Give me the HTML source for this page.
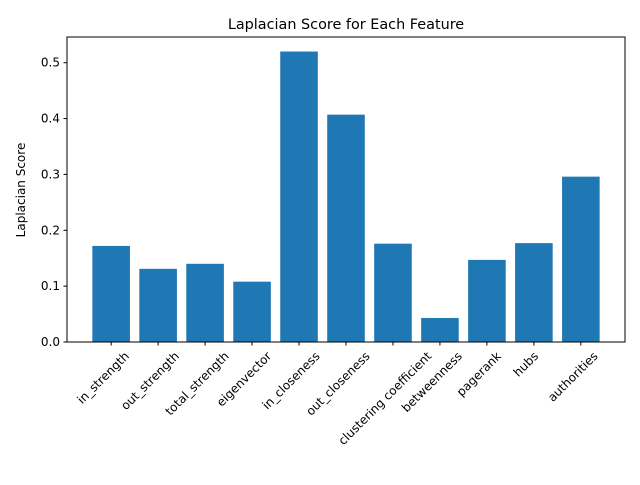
<!DOCTYPE html>
<html><head><meta charset="utf-8"><style>
body{margin:0;background:#fff;}
svg text{font-family:"DejaVu Sans","Liberation Sans",sans-serif;}
</style></head><body>
<svg width="640" height="480" viewBox="0 0 640 480" xmlns="http://www.w3.org/2000/svg">
<rect width="640" height="480" fill="#fff"/>
<text x="346" y="29" text-anchor="middle" font-size="14.4">Laplacian Score for Each Feature</text>
<g id="plot"></g>
<rect x="67" y="37" width="558" height="305" fill="none" stroke="#000" stroke-width="1"/>
<text transform="translate(25,190) rotate(-90)" text-anchor="middle" font-size="12">Laplacian Score</text>
</svg>
<script>
const categories=["in_strength","out_strength","total_strength","eigenvector","in_closeness","out_closeness","clustering coefficient","betweenness","pagerank","hubs","authorities"];
const values=[0.172,0.131,0.140,0.108,0.520,0.407,0.176,0.043,0.147,0.177,0.296];
const yTicks=[0,0.1,0.2,0.3,0.4,0.5];
const yTickLabels=["0.0","0.1","0.2","0.3","0.4","0.5"];
const L=67,R=625,T=37,B=342;
const xmin=-0.94,xmax=categories.length-1+0.94;
const ymax=Math.max(...values)*1.05;
const x=i=>L+(i-xmin)/(xmax-xmin)*(R-L);
const y=v=>B-v/ymax*(B-T);
const ns="http://www.w3.org/2000/svg";
const g=document.getElementById('plot');
function mk(t,a){const e=document.createElementNS(ns,t);for(const k in a)e.setAttribute(k,a[k]);g.appendChild(e);return e;}
const bw=0.8*(R-L)/(xmax-xmin);
const asc=11,desc=3,s=0.7071;
values.forEach((v,i)=>{
 const r=mk('rect',{x:x(i)-bw/2,y:y(v),width:bw,height:B-y(v),fill:'#1f77b4'});
 
 
 const tk=mk('line',{x1:x(i),x2:x(i),y1:B,y2:B+3.5,stroke:'#000'});
 
 
 const t=mk('text',{'font-size':12,'text-anchor':'end'});
 t.textContent=categories[i];
 
 
 const w=t.getComputedTextLength();
 const W=(w+asc+desc)*s;
 const bx=x(i)+W/2-desc*s-8, by=B+7+asc*s;
 t.setAttribute('transform',`translate(${bx},${by}) rotate(-45)`);
});
yTicks.forEach((v,i)=>{
 const tk=mk('line',{x1:L-3.5,x2:L,y1:y(v),y2:y(v),stroke:'#000'});
 
 
 const t=mk('text',{x:L-7,y:y(v)+4,'font-size':12,'text-anchor':'end'});
 t.textContent=yTickLabels[i];
 
 
});
</script>
</body></html>
